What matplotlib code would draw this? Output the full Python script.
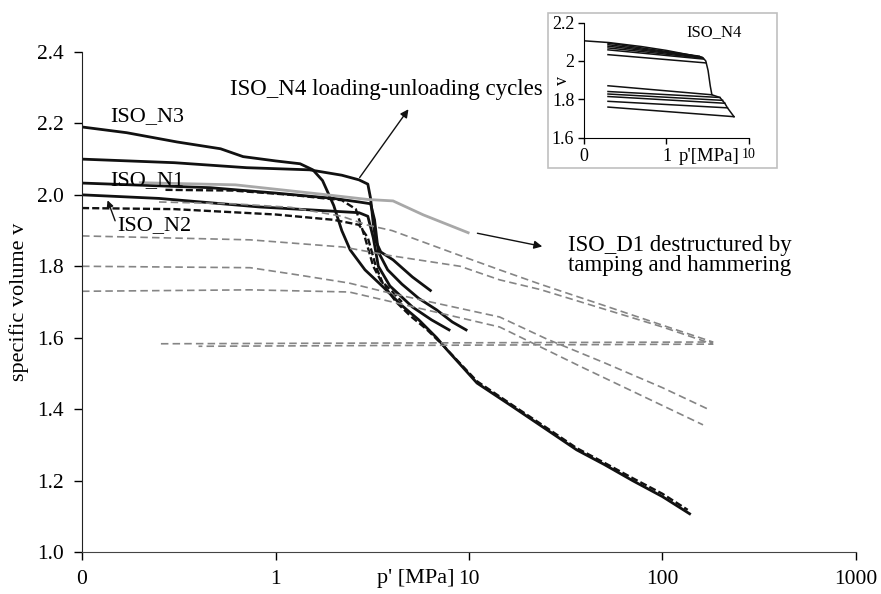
import numpy as np
import matplotlib.pyplot as plt
from matplotlib.patches import Rectangle
from matplotlib.ticker import FixedLocator, NullLocator, FixedFormatter

plt.rcParams['font.family'] = ['Liberation Serif', 'DejaVu Serif']

# natural samples (solid black)
n3_p = [0.1, 0.17, 0.31, 0.52, 0.68, 1.0, 1.34, 1.56, 1.75, 2.0, 2.2, 2.43, 2.9, 3.6, 4.5, 5.5, 6.8, 7.7, 11, 16.9, 25.3, 36, 50, 70, 100, 140]
n3_v = [2.19, 2.174, 2.148, 2.129, 2.107, 2.095, 2.087, 2.07, 2.04, 1.97, 1.90, 1.846, 1.79, 1.742, 1.69, 1.65, 1.60, 1.566, 1.473, 1.406, 1.342, 1.286, 1.245, 1.20, 1.155, 1.105]
n4_p = [0.1, 0.3, 0.71, 1.5, 2.2, 2.7, 3.0, 3.1, 3.2, 3.3, 3.5, 4.05, 5.1, 6.4]
n4_v = [2.10, 2.09, 2.076, 2.07, 2.055, 2.042, 2.03, 1.99, 1.92, 1.87, 1.84, 1.818, 1.77, 1.73]
n1_p = [0.1, 0.46, 1.0, 2.0, 2.7, 3.1, 3.25, 3.4, 3.8, 4.5, 5.5, 6.8, 8.2, 9.8]
n1_v = [2.033, 2.02, 2.005, 1.99, 1.98, 1.975, 1.93, 1.84, 1.79, 1.75, 1.71, 1.678, 1.644, 1.62]
n2_p = [0.1, 0.25, 0.83, 1.5, 2.7, 3.0, 3.2, 3.4, 3.9, 5.1, 6.4, 8.0]
n2_v = [2.0, 1.99, 1.966, 1.958, 1.95, 1.94, 1.88, 1.80, 1.745, 1.686, 1.65, 1.62]

# black dashed
bd1_p = [0.1, 0.3, 1.0, 2.0, 2.7, 3.0, 3.3, 3.6, 4.2, 5.0, 6.0, 7.3, 11, 16.9, 25.3, 36, 50, 70, 100, 135]
bd1_v = [1.963, 1.96, 1.945, 1.93, 1.916, 1.88, 1.80, 1.75, 1.70, 1.66, 1.625, 1.58, 1.478, 1.41, 1.347, 1.291, 1.25, 1.207, 1.163, 1.118]
bd2_p = [0.27, 0.6, 1.2, 2.2, 2.6, 2.9, 3.2, 3.5, 4.0, 4.5]
bd2_v = [2.014, 2.012, 2.0, 1.985, 1.96, 1.88, 1.80, 1.76, 1.73, 1.70]

# ISO_D1 (grey solid)
d1_p = [0.2, 0.62, 1.85, 3.0, 4.05, 5.8, 9.9]
d1_v = [2.034, 2.028, 2.0, 1.987, 1.983, 1.944, 1.894]

# grey dashed
ga_p = [0.25, 0.6, 1.2, 2.2, 3.0, 4.0, 9.0, 14.4, 23.3, 50, 100, 182, 0.25]
ga_v = [1.98, 1.975, 1.965, 1.94, 1.915, 1.90, 1.83, 1.79, 1.75, 1.69, 1.635, 1.588, 1.583]
gb_p = [0.1, 0.74, 2.23, 3.9, 9.0, 14.4, 23.3, 50, 100, 182, 0.4]
gb_v = [1.885, 1.874, 1.854, 1.83, 1.80, 1.762, 1.735, 1.68, 1.63, 1.582, 1.576]
gc_p = [0.1, 0.74, 1.3, 2.4, 3.9, 7.7, 14.4, 25.3, 50, 100, 172]
gc_v = [1.80, 1.796, 1.776, 1.753, 1.725, 1.69, 1.658, 1.596, 1.53, 1.46, 1.40]
gd_p = [0.1, 0.74, 2.4, 3.6, 14.4, 37.5, 100, 162]
gd_v = [1.73, 1.734, 1.728, 1.706, 1.63, 1.52, 1.41, 1.356]

# inset ISO_N4 cycles
ins_load_p = [0.1, 0.2, 0.5, 1.0, 2.0, 2.77, 3.0, 3.2, 3.4, 3.56, 4.45, 5.1, 5.5, 6.6]
ins_load_v = [2.105, 2.096, 2.075, 2.055, 2.03, 2.017, 2.0, 1.95, 1.87, 1.824, 1.81, 1.78, 1.756, 1.71]
ins_cyc_start = 0.195
ins_cyc_v0 = [2.093, 2.085, 2.077, 2.068, 2.058, 2.033, 1.871, 1.841, 1.828, 1.815, 1.790, 1.760]
ins_cyc_p1 = [2.5, 2.6, 2.7, 2.75, 2.8, 3.0, 3.56, 4.45, 4.8, 5.1, 5.5, 6.6]
ins_cyc_v1 = [2.025, 2.022, 2.019, 2.015, 2.01, 1.99, 1.824, 1.81, 1.795, 1.78, 1.756, 1.71]

fig = plt.figure(figsize=(8.81, 5.94), dpi=100)
ax = fig.add_axes([0.0931, 0.0707, 0.8785, 0.8418])

blk = '#111111'
gry = '#858585'
for p, v in [(n3_p, n3_v), (n4_p, n4_v), (n1_p, n1_v), (n2_p, n2_v)]:
    ax.plot(p, v, color=blk, lw=2.0, solid_capstyle='butt')
for p, v in [(bd1_p, bd1_v), (bd2_p, bd2_v)]:
    ax.plot(p, v, color=blk, lw=1.7, dashes=(3.0, 1.3))
for p, v in [(ga_p, ga_v), (gb_p, gb_v), (gc_p, gc_v), (gd_p, gd_v)]:
    ax.plot(p, v, color=gry, lw=1.2, dashes=(4.5, 2.5))
ax.plot(d1_p, d1_v, color='#a8a8a8', lw=2.0)

ax.set_xscale('log')
ax.set_xlim(0.1, 1000)
ax.set_ylim(1.0, 2.4)
ax.xaxis.set_major_locator(FixedLocator([0.1, 1, 10, 100, 1000]))
ax.xaxis.set_major_formatter(FixedFormatter(['0', '1', '10', '100', '1000']))
ax.xaxis.set_minor_locator(NullLocator())
ax.set_yticks(np.arange(1.0, 2.41, 0.2))
ax.set_yticklabels(['%.1f' % t for t in np.arange(1.0, 2.41, 0.2)])
ax.tick_params(axis='both', direction='out', length=6, width=1, labelsize=15.5, pad=7)
ax.spines['top'].set_visible(False)
ax.spines['right'].set_visible(False)
ax.spines['left'].set_color('#222222')
ax.spines['bottom'].set_color('#444444')
ax.set_ylabel('specific volume v', fontsize=16, labelpad=6)
ax.text(8.4, -0.052, "p' [MPa]", transform=ax.get_xaxis_transform(),
        ha='right', va='center', fontsize=16)

ax.text(0.14, 2.22, 'ISO_N3', fontsize=16, va='center')
ax.text(0.14, 2.04, 'ISO_N1', fontsize=16, va='center')
ax.text(0.152, 1.913, 'ISO_N2', fontsize=16, va='center')
ax.annotate('', xy=(0.134, 1.992), xytext=(0.15, 1.92),
            arrowprops=dict(arrowstyle='-|>', color=blk, lw=1, mutation_scale=10))
ax.annotate('', xy=(4.96, 2.246), xytext=(2.67, 2.042),
            arrowprops=dict(arrowstyle='-|>', color=blk, lw=1, mutation_scale=12))
ax.text(24.1, 2.294, 'ISO_N4 loading-unloading cycles', fontsize=16.5,
        ha='right', va='center')
ax.annotate('', xy=(24.7, 1.854), xytext=(10.7, 1.894),
            arrowprops=dict(arrowstyle='-|>', color=blk, lw=1, mutation_scale=12))
ax.text(32.5, 1.83, 'ISO_D1 destructured by\ntamping and hammering', fontsize=16.5,
        ha='left', va='center', linespacing=0.95)

# inset frame and axes
fig.patches.append(Rectangle((0.622, 0.717), 0.26, 0.261, transform=fig.transFigure,
                             facecolor='white', edgecolor='#c0c0c0', lw=1.2, zorder=1))
axi = fig.add_axes([0.663, 0.768, 0.187, 0.194], zorder=2)
axi.patch.set_alpha(0)
axi.plot(ins_load_p, ins_load_v, color=blk, lw=1.1)
for v0, p1, v1 in zip(ins_cyc_v0, ins_cyc_p1, ins_cyc_v1):
    axi.plot([ins_cyc_start, p1], [v0, v1], color=blk, lw=1.1)
axi.set_xscale('log')
axi.set_xlim(0.1, 10)
axi.set_ylim(1.6, 2.2)
axi.xaxis.set_major_locator(FixedLocator([0.1, 1, 10]))
axi.xaxis.set_major_formatter(FixedFormatter(['0', '1', '10']))
axi.xaxis.set_minor_locator(NullLocator())
axi.set_yticks([1.6, 1.8, 2.0, 2.2])
axi.set_yticklabels(['1.6', '1.8', '2', '2.2'])
axi.tick_params(axis='both', direction='out', length=4, width=1, labelsize=13, pad=3)
axi.get_xticklabels()[2].set_fontsize(10)
axi.spines['top'].set_visible(False)
axi.spines['right'].set_visible(False)
axi.text(-0.13, 0.5, 'v', transform=axi.transAxes, rotation=90, fontsize=13,
         ha='center', va='center')
axi.text(0.79, 0.92, 'ISO_N4', transform=axi.transAxes, fontsize=12, ha='center', va='center')
axi.text(3.3, -0.165, "p'[MPa]", transform=axi.get_xaxis_transform(),
         ha='center', va='center', fontsize=13.5)

plt.savefig('out.png', dpi=100)
